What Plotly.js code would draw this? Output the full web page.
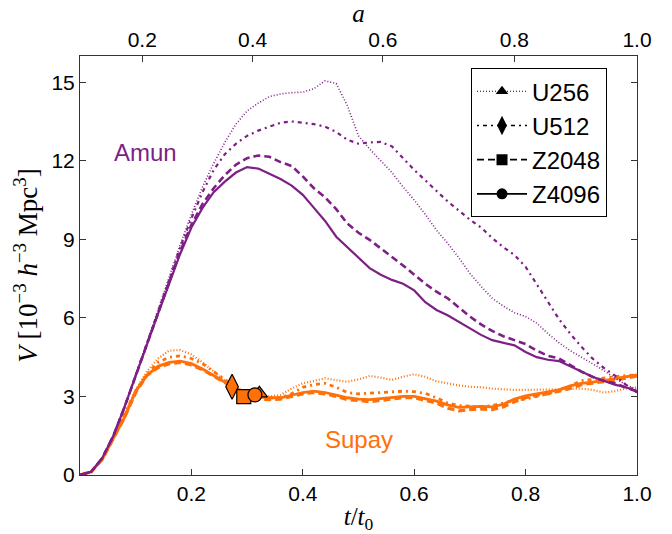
<!DOCTYPE html>
<html>
<head>
<meta charset="utf-8">
<script src="https://cdn.plot.ly/plotly-3.0.1.min.js"></script>
<style>
  html, body { margin: 0; padding: 0; background: #fff; }
  #chart { width: 672px; height: 534px; }
</style>
</head>
<body>
<div id="chart"></div>
<script>
// time in units of the present age, t/t0
const tGrid = [0.00, 0.02, 0.04, 0.06, 0.08, 0.10, 0.12, 0.14, 0.16, 0.18,
               0.20, 0.22, 0.24, 0.26, 0.28, 0.30, 0.32, 0.34, 0.36, 0.38,
               0.40, 0.42, 0.44, 0.46, 0.48, 0.50, 0.52, 0.54, 0.56, 0.58,
               0.60, 0.62, 0.64, 0.66, 0.68, 0.70, 0.72, 0.74, 0.76, 0.78,
               0.80, 0.82, 0.84, 0.86, 0.88, 0.90, 0.92, 0.94, 0.96, 0.98, 1.00];

// void volume, 10^-3 h^-3 Mpc^3 -- Amun
const amunU256 = [0, 0.12, 0.65, 1.5, 2.6, 3.8, 5.05, 6.3, 7.55, 8.8,
                  9.95, 11.0, 11.9, 12.7, 13.4, 13.9, 14.2, 14.45, 14.55, 14.6,
                  14.62, 14.75, 15.05, 14.95, 14.1, 12.95, 12.45, 12.0, 11.55, 11.0,
                  10.5, 9.95, 9.35, 8.85, 8.3, 7.7, 7.2, 6.75, 6.45, 6.2,
                  6.05, 5.8, 5.4, 5.05, 4.75, 4.5, 4.25, 4.0, 3.7, 3.45, 3.25];
const amunU512 = [0, 0.12, 0.65, 1.5, 2.6, 3.8, 5.0, 6.2, 7.45, 8.7,
                  9.8, 10.8, 11.65, 12.25, 12.65, 12.95, 13.15, 13.3, 13.45, 13.5,
                  13.45, 13.4, 13.3, 13.1, 12.8, 12.65, 12.7, 12.72, 12.55, 12.1,
                  11.65, 11.25, 10.85, 10.45, 10.1, 9.75, 9.45, 9.05, 8.7, 8.4,
                  7.95, 7.3, 6.6, 5.95, 5.4, 4.9, 4.45, 4.1, 3.8, 3.45, 3.15];
const amunZ2048 = [0, 0.12, 0.65, 1.5, 2.6, 3.8, 5.0, 6.15, 7.35, 8.55,
                   9.55, 10.35, 10.95, 11.45, 11.85, 12.1, 12.2, 12.15, 11.95, 11.8,
                   11.4, 10.95, 10.6, 10.15, 9.6, 9.25, 8.98, 8.65, 8.35, 8.0,
                   7.65, 7.3, 7.0, 6.75, 6.4, 6.05, 5.75, 5.5, 5.3, 5.15,
                   5.0, 4.75, 4.55, 4.45, 4.2, 3.95, 3.75, 3.6, 3.5, 3.35, 3.18];
const amunZ4096 = [0, 0.12, 0.65, 1.5, 2.6, 3.8, 5.0, 6.15, 7.3, 8.45,
                   9.45, 10.2, 10.8, 11.2, 11.55, 11.76, 11.7, 11.5, 11.3, 11.05,
                   10.7, 10.2, 9.7, 9.1, 8.7, 8.3, 7.9, 7.65, 7.45, 7.3,
                   7.05, 6.6, 6.3, 6.1, 5.85, 5.6, 5.35, 5.15, 5.05, 4.95,
                   4.7, 4.5, 4.4, 4.35, 4.15, 3.95, 3.75, 3.6, 3.45, 3.35, 3.2];

// void volume, 10^-3 h^-3 Mpc^3 -- Supay
const supayU256 = [0, 0.12, 0.6, 1.45, 2.35, 3.25, 3.95, 4.45, 4.75, 4.77,
                   4.6, 4.3, 3.95, 3.6, 3.35, 3.15, 3.1, 3.0, 3.05, 3.3,
                   3.5, 3.6, 3.69, 3.62, 3.56, 3.65, 3.78, 3.72, 3.63, 3.75,
                   3.85, 3.75, 3.58, 3.5, 3.42, 3.37, 3.35, 3.3, 3.27, 3.25,
                   3.25, 3.25, 3.25, 3.27, 3.3, 3.3, 3.25, 3.15, 3.2, 3.3, 3.35];
const supayU512 = [0, 0.12, 0.6, 1.45, 2.35, 3.2, 3.85, 4.3, 4.5, 4.55,
                   4.45, 4.25, 3.95, 3.65, 3.3, 3.15, 3.0, 2.95, 2.95, 3.1,
                   3.35, 3.45, 3.5, 3.35, 3.15, 3.1, 3.12, 3.15, 3.18, 3.2,
                   3.18, 3.12, 2.95, 2.75, 2.65, 2.62, 2.6, 2.65, 2.75, 2.85,
                   2.9, 3.0, 3.1, 3.25, 3.4, 3.6, 3.65, 3.7, 3.75, 3.8, 3.82];
const supayZ2048 = [0, 0.12, 0.6, 1.4, 2.2, 3.15, 3.8, 4.1, 4.25, 4.3,
                    4.2, 4.02, 3.78, 3.52, 3.28, 3.0, 2.9, 2.88, 2.9, 3.0,
                    3.1, 3.15, 3.1, 3.0, 2.88, 2.85, 2.8, 2.85, 2.9, 2.95,
                    2.95, 2.85, 2.75, 2.55, 2.45, 2.5, 2.52, 2.5, 2.6, 2.8,
                    2.95, 3.05, 3.1, 3.2, 3.3, 3.45, 3.5, 3.55, 3.62, 3.7, 3.78];
const supayZ4096 = [0, 0.12, 0.6, 1.4, 2.2, 3.2, 3.8, 4.15, 4.3, 4.35,
                    4.25, 4.05, 3.8, 3.55, 3.3, 3.05, 2.98, 2.95, 2.95, 3.05,
                    3.15, 3.2, 3.15, 3.05, 2.95, 2.9, 2.88, 2.92, 2.97, 3.0,
                    3.0, 2.92, 2.82, 2.68, 2.58, 2.6, 2.62, 2.6, 2.7, 2.9,
                    3.02, 3.1, 3.17, 3.25, 3.4, 3.5, 3.55, 3.6, 3.68, 3.75, 3.82];

// events marked on the Supay curves (U256, U512, Z2048, Z4096)
const markT = [0.322, 0.273, 0.294, 0.314];
const markV = [3.12, 3.37, 2.99, 3.06];

const runNames = ['U256', 'U512', 'Z2048', 'Z4096'];

// scale factor ticks for the top axis
const aTicks = [0.2, 0.4, 0.6, 0.8, 1.0];
const aTickText = ['0.2', '0.4', '0.6', '0.8', '1.0'];
const yTicks = [0, 3, 6, 9, 12, 15];
const xTicks = [0.2, 0.4, 0.6, 0.8, 1.0];

// flat LCDM age-scale factor relation, normalised to t0
const omegaM = 0.31;
function tOfA(a) {
  const k = Math.sqrt((1 - omegaM) / omegaM);
  return Math.asinh(k * Math.pow(a, 1.5)) / Math.asinh(k);
}

const PURPLE = '#7d1f85';
const ORANGE = '#ff7008';
const FONT = 'Liberation Sans, Arial, sans-serif';
const SERIF = 'Liberation Serif, DejaVu Serif, serif';

const styles = {
  U256:  { dash: '1px,2px',          width: 1.6, symbol: 'triangle-up', size: 14 },
  U512:  { dash: '2px,4px,4px,4px',  width: 2.2, symbol: 'diamond-tall', size: 18 },
  Z2048: { dash: '7px,4px',          width: 2.6, symbol: 'square', size: 14 },
  Z4096: { dash: 'solid',            width: 2.2, symbol: 'circle', size: 14 }
};

const supay = { U256: supayU256, U512: supayU512, Z2048: supayZ2048, Z4096: supayZ4096 };
const amun = { U256: amunU256, U512: amunU512, Z2048: amunZ2048, Z4096: amunZ4096 };

const traces = [];

// Supay curves first, Amun on top
runNames.forEach(n => {
  const s = styles[n];
  traces.push({
    x: tGrid, y: supay[n], type: 'scatter', mode: 'lines', showlegend: false,
    line: { color: ORANGE, width: s.width + 0.6, dash: s.dash }, hoverinfo: 'skip'
  });
});
runNames.forEach(n => {
  const s = styles[n];
  traces.push({
    x: tGrid, y: amun[n], type: 'scatter', mode: 'lines', showlegend: false,
    line: { color: PURPLE, width: s.width, dash: s.dash }, hoverinfo: 'skip'
  });
});

// transparent copy on the scale-factor axis so that the top axis is laid out
traces.push({
  x: tGrid, y: amunZ4096, xaxis: 'x2', yaxis: 'y', type: 'scatter', mode: 'lines',
  showlegend: false, opacity: 0, line: { color: PURPLE, width: 1 }, hoverinfo: 'skip'
});

// event markers on Supay
runNames.forEach((n, i) => {
  const s = styles[n];
  traces.push({
    x: [markT[i]], y: [markV[i]], type: 'scatter', mode: 'markers', showlegend: false,
    marker: { symbol: s.symbol, size: s.size, color: ORANGE, line: { color: '#000', width: 1.2 } },
    hoverinfo: 'skip'
  });
});

// legend entries in black
runNames.forEach(n => {
  const s = styles[n];
  traces.push({
    x: [null], y: [null], type: 'scatter', mode: 'lines+markers', name: n,
    legendgroup: n,
    line: { color: '#000', width: n === 'U256' ? 1.2 : 1.6, dash: s.dash },
    marker: { symbol: s.symbol, size: n === 'U512' ? 14 : 11, color: '#000' }
  });
});

const layout = {
  width: 672, height: 534,
  margin: { l: 80, r: 35, t: 56, b: 59 },
  paper_bgcolor: '#fff', plot_bgcolor: '#fff',
  font: { family: FONT, size: 21, color: '#000' },
  showlegend: true,
  legend: {
    x: 0.702, y: 0.971, xanchor: 'left', yanchor: 'top',
    bgcolor: '#fff', bordercolor: '#000', borderwidth: 1,
    font: { family: FONT, size: 24 },
    traceorder: 'grouped', tracegroupgap: 0, itemwidth: 50
  },
  xaxis: {
    range: [0, 1], tickvals: xTicks, tickformat: '.1f',
    ticks: 'inside', ticklen: 6, tickcolor: '#333', tickwidth: 1,
    showline: true, linecolor: '#333', linewidth: 1, mirror: false,
    showgrid: false, zeroline: false,
    title: { text: '<i>t</i>/<i>t</i><sub>0</sub>', font: { family: SERIF, size: 25 }, standoff: 4 }
  },
  xaxis2: {
    overlaying: 'x', side: 'top', anchor: 'y', range: [0, 1],
    tickmode: 'array', tickvals: aTicks.map(tOfA), ticktext: aTickText,
    ticks: 'inside', ticklen: 6, tickcolor: '#333', tickwidth: 1,
    showline: true, linecolor: '#333', linewidth: 1,
    showgrid: false, zeroline: false,
    title: { text: '<i>a</i>', font: { family: SERIF, size: 25 }, standoff: 2 }
  },
  yaxis: {
    range: [0, 16], tickvals: yTicks,
    ticks: 'inside', ticklen: 6, tickcolor: '#333', tickwidth: 1,
    showline: true, linecolor: '#333', linewidth: 1, mirror: 'ticks',
    showgrid: false, zeroline: false,
    title: { text: '<i>V</i> [10<sup>−3</sup> <i>h</i><sup>−3</sup> Mpc<sup>3</sup>]',
             font: { family: SERIF, size: 27 }, standoff: 5 }
  },
  annotations: [
    { x: 0.117, y: 12.3, xref: 'x', yref: 'y', text: 'Amun', showarrow: false,
      font: { family: FONT, size: 24, color: PURPLE } },
    { x: 0.5, y: 1.35, xref: 'x', yref: 'y', text: 'Supay', showarrow: false,
      font: { family: FONT, size: 24, color: ORANGE } }
  ]
};

Plotly.newPlot('chart', traces, layout, { staticPlot: true, displayModeBar: false });
</script>
</body>
</html>
